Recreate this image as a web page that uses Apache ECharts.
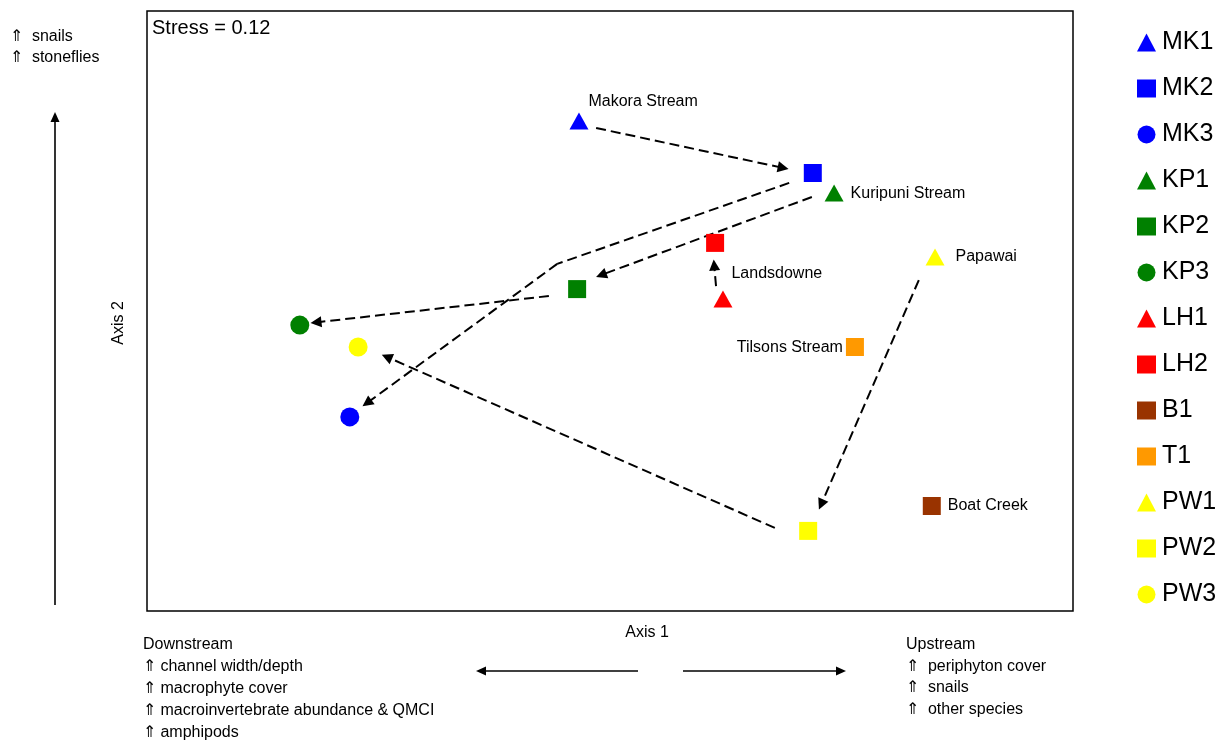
<!DOCTYPE html>
<html>
<head>
<meta charset="utf-8">
<script src="https://cdn.jsdelivr.net/npm/echarts@6/dist/echarts.min.js"></script>
<style>
  html, body { margin: 0; padding: 0; background: #fff; }
  #chart { width: 1232px; height: 743px; }
</style>
</head>
<body>
<div id="chart"></div>
<script>
// NMDS ordination of stream invertebrate communities (site scores)
const sites  = ['MK1', 'MK2', 'MK3', 'KP1', 'KP2', 'KP3', 'LH1', 'LH2', 'B1', 'T1', 'PW1', 'PW2', 'PW3'];
const axis1  = [-0.067, 0.438, -0.562, 0.484, -0.071, -0.670, 0.244, 0.227, 0.695, 0.529, 0.702, 0.428, -0.544];
const axis2  = [ 0.633, 0.460, -0.353, 0.393,  0.073, -0.047, 0.040, 0.227, -0.650, -0.120, 0.180, -0.733, -0.120];
const shapes = ['triangle', 'rect', 'circle', 'triangle', 'rect', 'circle', 'triangle', 'rect', 'rect', 'rect', 'triangle', 'rect', 'circle'];
const colors = ['#0000ff', '#0000ff', '#0000ff', '#008000', '#008000', '#008000', '#ff0000', '#ff0000', '#993300', '#ff9900', '#ffff00', '#ffff00', '#ffff00'];

// stream names, each shown beside one of its sites
const streamNames = { MK1: 'Makora Stream', KP1: 'Kuripuni Stream', LH1: 'Landsdowne', PW1: 'Papawai', T1: 'Tilsons Stream', B1: 'Boat Creek' };

// downstream trajectories between sites (Axis 1, Axis 2 points)
const trajectories = [
  [[-0.030, 0.610], [0.374, 0.477]],                    // MK1 -> MK2
  [[0.387, 0.427], [-0.114, 0.157], [-0.525, -0.307]],  // MK2 -> MK3
  [[0.436, 0.380], [-0.019, 0.120]],                    // KP1 -> KP2
  [[-0.132, 0.050], [-0.635, -0.038]],                  // KP2 -> KP3
  [[0.229, 0.083], [0.225, 0.153]],                     // LH1 -> LH2
  [[0.667, 0.103], [0.456, -0.645]],                    // PW1 -> PW2
  [[0.356, -0.723], [-0.482, -0.153]]                   // PW2 -> PW3
];

const stressText = 'Stress = 0.12';
const axis1Title = 'Axis 1';
const axis2Title = 'Axis 2';
const axis2Notes = ['⇑  snails', '⇑  stoneflies'];
const downstreamNotes = ['Downstream', '⇑ channel width/depth', '⇑ macrophyte cover', '⇑ macroinvertebrate abundance & QMCI', '⇑ amphipods'];
const upstreamNotes = ['Upstream', '⇑  periphyton cover', '⇑  snails', '⇑  other species'];

const FONT = '"Liberation Sans", Arial, Helvetica, sans-serif';

// label placement next to each named site
const labelPlacement = {
  MK1: { position: 'right', distance: 0, offset: [0, -20] },
  KP1: { position: 'right', distance: 7, offset: [0, 0] },
  LH1: { position: 'right', distance: 0, offset: [-1, -25] },
  PW1: { position: 'right', distance: 11, offset: [0, 0] },
  T1:  { position: 'left',  distance: 3, offset: [0, 1] },
  B1:  { position: 'right', distance: 7, offset: [0, 0] }
};

const symbolSizes = { triangle: [19, 17], rect: 18, circle: 19 };

const siteSeries = sites.map((name, i) => {
  const lbl = labelPlacement[name];
  return {
    name: name,
    type: 'scatter',
    symbol: shapes[i],
    symbolSize: symbolSizes[shapes[i]],
    itemStyle: { color: colors[i], opacity: 1 },
    z: 5,
    silent: true,
    data: [[axis1[i], axis2[i]]],
    label: lbl ? {
      show: true,
      formatter: streamNames[name],
      position: lbl.position,
      distance: lbl.distance,
      offset: lbl.offset,
      color: '#000',
      fontFamily: FONT,
      fontSize: 16
    } : { show: false }
  };
});

// each trajectory: leading segments plain, final segment ends in an arrowhead
const plainSegments = [];
const arrowSegments = [];
trajectories.forEach(path => {
  for (let k = 0; k < path.length - 1; k++) {
    const seg = { coords: [path[k], path[k + 1]] };
    (k === path.length - 2 ? arrowSegments : plainSegments).push(seg);
  }
});

const dashStyle = { color: '#000', width: 2, type: [10, 5], opacity: 1, curveness: 0 };

const trajectorySeries = [
  {
    type: 'lines', coordinateSystem: 'cartesian2d', silent: true, z: 3,
    symbol: ['none', 'none'],
    lineStyle: dashStyle,
    data: plainSegments
  },
  {
    type: 'lines', coordinateSystem: 'cartesian2d', silent: true, z: 3,
    symbol: ['none', 'triangle'],
    symbolSize: 11,
    lineStyle: dashStyle,
    data: arrowSegments
  }
];

function textBlock(lines, x, y0, step, size) {
  return lines.map((t, k) => ({
    type: 'text',
    x: x, y: y0 + k * step,
    style: { text: t, font: size + 'px ' + FONT, fill: '#000', align: 'left', verticalAlign: 'middle' }
  }));
}

function arrow(x1, y1, x2, y2) {
  const dx = x2 - x1, dy = y2 - y1, len = Math.hypot(dx, dy);
  const ux = dx / len, uy = dy / len, head = 10, half = 4.5;
  const bx = x2 - ux * head, by = y2 - uy * head;
  return [
    { type: 'line', shape: { x1: x1, y1: y1, x2: bx, y2: by }, style: { stroke: '#000', lineWidth: 1.6 } },
    { type: 'polygon', shape: { points: [[x2, y2], [bx - uy * half, by + ux * half], [bx + uy * half, by - ux * half]] }, style: { fill: '#000' } }
  ];
}

const chart = echarts.init(document.getElementById('chart'), null, { renderer: 'canvas' });

chart.setOption({
  animation: false,
  backgroundColor: '#fff',
  textStyle: { fontFamily: FONT },
  grid: { left: 147, top: 11, width: 926, height: 600, show: true, borderColor: '#000', borderWidth: 1.5, backgroundColor: '#fff' },
  xAxis: {
    type: 'value', min: -1, max: 1,
    axisLine: { show: false }, axisTick: { show: false }, axisLabel: { show: false }, splitLine: { show: false }
  },
  yAxis: {
    type: 'value', min: -1, max: 1,
    axisLine: { show: false }, axisTick: { show: false }, axisLabel: { show: false }, splitLine: { show: false }
  },
  legend: {
    data: sites,
    orient: 'vertical',
    left: 1137, top: 30,
    padding: 0,
    itemWidth: 19, itemHeight: 18, itemGap: 21,
    selectedMode: false,
    textStyle: { fontFamily: FONT, fontSize: 25, color: '#000', padding: [0, 0, 0, 1] }
  },
  graphic: [
    { type: 'text', x: 152, y: 28, style: { text: stressText, font: '20px ' + FONT, fill: '#000', verticalAlign: 'middle' } },
    { type: 'text', x: 647, y: 633, style: { text: axis1Title, font: '16px ' + FONT, fill: '#000', align: 'center', verticalAlign: 'middle' } },
    { type: 'text', x: 119, y: 323, rotation: Math.PI / 2, style: { text: axis2Title, font: '16px ' + FONT, fill: '#000', align: 'center', verticalAlign: 'middle' } },
    ...textBlock(axis2Notes, 10, 37, 21, 16),
    ...textBlock(downstreamNotes, 143, 645, 22, 16),
    ...textBlock(upstreamNotes, 906, 645, 21.5, 16),
    ...arrow(55, 605, 55, 112),
    ...arrow(638, 671, 476, 671),
    ...arrow(683, 671, 846, 671)
  ],
  series: [...trajectorySeries, ...siteSeries]
});
</script>
</body>
</html>
